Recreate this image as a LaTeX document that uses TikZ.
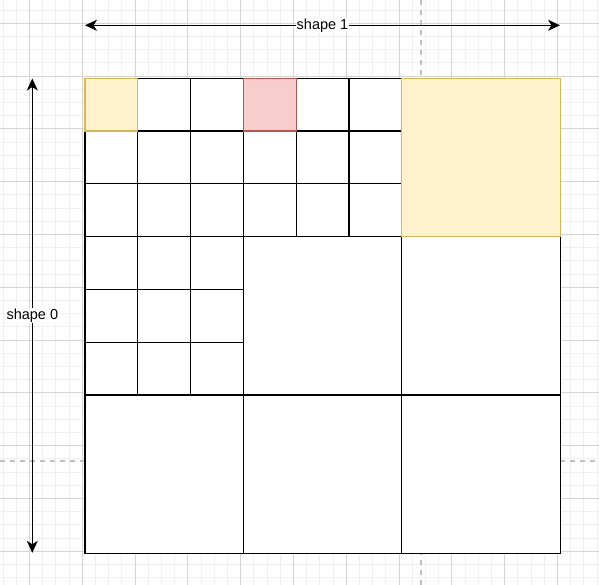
\documentclass[tikz,border=0pt]{standalone}
\usepackage{fontspec}
\setmainfont{Liberation Sans}
\usetikzlibrary{arrows.meta}
\begin{document}
\begin{tikzpicture}[x=1pt,y=-1pt,
  minorgrid/.style={draw=black!6,line width=1pt},
  majorgrid/.style={draw=black!17,line width=1pt},
  pagebreak/.style={draw=black!25,line width=1.3pt,dash pattern=on 5pt off 5pt},
  cell/.style={draw=black,fill=white,line width=1.3pt},
  ycell/.style={draw=yellow!60!black!70!orange,fill=yellow!20!orange!25!white,line width=1.3pt},
  rcell/.style={draw=red!55!black!80,fill=red!20!white,line width=1.3pt},
  arr/.style={{Stealth[length=12pt,width=11pt,inset=3.5pt]}-{Stealth[length=12pt,width=11pt,inset=3.5pt]},line width=1.3pt},
  lbl/.style={fill=white,inner sep=1pt,font=\fontsize{14.5}{16}\selectfont}]
\definecolor{ylfill}{HTML}{FFF2CC}
\definecolor{yldraw}{HTML}{D6B656}
\definecolor{rdfill}{HTML}{F8CECC}
\definecolor{rddraw}{HTML}{B85450}
\tikzset{ycell/.style={draw=yldraw,fill=ylfill,line width=1.3pt},
         rcell/.style={draw=rddraw,fill=rdfill,line width=1.3pt}}
\useasboundingbox (0,0) rectangle (599,585);
\fill[white] (0,0) rectangle (599,585);
% background grid
\foreach \i in {0,...,45} {\draw[minorgrid] ({3.1+13.2*\i},0) -- ({3.1+13.2*\i},585);}
\foreach \i in {0,...,43} {\draw[minorgrid] (0,{10.1+13.2*\i}) -- (599,{10.1+13.2*\i});}
\foreach \i in {0,...,10} {\draw[majorgrid] ({29.5+52.8*\i},0) -- ({29.5+52.8*\i},585);}
\foreach \i in {0,...,10} {\draw[majorgrid] (0,{23.3+52.8*\i}) -- (599,{23.3+52.8*\i});}
% page break lines
\draw[pagebreak] (421,0) -- (421,585);
\draw[pagebreak] (0,461) -- (599,461);
% small cells
\foreach \r in {0,1,2} {\foreach \c in {0,...,5} {
  \draw[cell] ({85+52.8*\c},{78.2+52.8*\r}) rectangle ++(52.8,52.8);}}
\foreach \r in {3,4,5} {\foreach \c in {0,1,2} {
  \draw[cell] ({85+52.8*\c},{78.2+52.8*\r}) rectangle ++(52.8,52.8);}}
% big cells
\draw[cell] ({85+52.8*3},{78.2+52.8*3}) rectangle ++(158.4,158.4);
\draw[cell] ({85+52.8*6},{78.2+52.8*3}) rectangle ++(158.4,158.4);
\foreach \c in {0,3,6} {\draw[cell] ({85+52.8*\c},{78.2+52.8*6}) rectangle ++(158.4,158.4);}
% highlighted cells
\draw[ycell] (85,78.2) rectangle ++(52.8,52.8);
\draw[rcell] ({85+52.8*3},78.2) rectangle ++(52.8,52.8);
\draw[ycell] ({85+52.8*6},78.2) rectangle ++(158.4,158.4);
% dimension arrows
\coordinate (h1) at (85,25.3);
\coordinate (h2) at (560,25.3);
\coordinate (v1) at (32.3,78.5);
\coordinate (v2) at (32.3,552.8);
\draw[arr] (h1) -- node[lbl] {shape 1} (h2);
\draw[arr] (v1) -- node[lbl] {shape 0} (v2);
\end{tikzpicture}
\end{document}
